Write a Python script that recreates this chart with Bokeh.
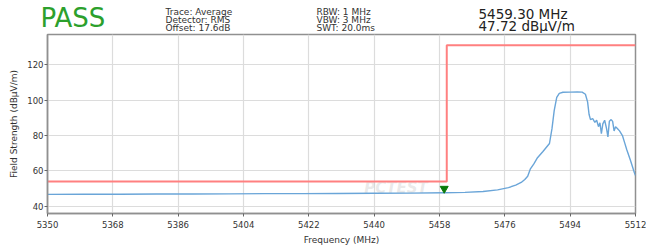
from bokeh.plotting import figure
from bokeh.layouts import column
from bokeh.models import Range1d, FixedTicker, ColumnDataSource, Label
from bokeh.core.properties import value
from bokeh.transform import dodge
from bokeh.embed import file_html
from bokeh.resources import INLINE

# ---------------- data ----------------
freq = [5350, 5360, 5370, 5380, 5390, 5400, 5410, 5420, 5430, 5440, 5450, 5459.3,
        5465, 5470, 5474, 5477, 5479, 5480.5, 5481.5, 5482.3, 5483, 5484, 5485,
        5486.5, 5488.3, 5489, 5489.6, 5490.3, 5491, 5492, 5494, 5496, 5497.3,
        5498.2, 5498.8, 5499.2, 5499.6, 5500.2, 5500.8, 5501.3, 5501.8, 5502.2,
        5502.6, 5503.0, 5503.5, 5504.0, 5504.4, 5504.8, 5505.3, 5505.7, 5506.1,
        5506.5, 5507.0, 5507.6, 5508.4, 5509.0, 5509.6, 5510.6, 5511.7, 5512]
level = [46.8, 46.9, 46.9, 47.0, 47.0, 47.1, 47.2, 47.2, 47.3, 47.4, 47.5, 47.72,
         47.9, 48.4, 49.3, 50.6, 52.0, 53.5, 55.2, 57.0, 61.0, 64.0, 67.5,
         71.0, 75.5, 84.0, 94.0, 101.5, 103.8, 104.4, 104.5, 104.6, 104.5,
         103.3, 99.0, 92.0, 89.0, 89.6, 87.4, 88.6, 85.0, 87.2,
         81.0, 86.6, 88.6, 84.2, 79.2, 88.0, 89.0, 88.0, 82.6,
         85.0, 84.0, 82.6, 80.0, 76.0, 72.0, 66.0, 59.0, 57.5]
limit_freq = [5350, 5460, 5460, 5512]
limit_level = [54, 54, 131, 131]
marker_freq = [5459.30]
marker_level = [47.72]
x_ticks = [5350, 5368, 5386, 5404, 5422, 5440, 5458, 5476, 5494, 5512]
y_ticks = [40, 60, 80, 100, 120]
verdict = "PASS"
header_left = ["Trace: Average", "Detector: RMS", "Offset: 17.6dB"]
header_mid = ["RBW: 1 MHz", "VBW: 3 MHz", "SWT: 20.0ms"]
watermark = "PCTEST"

FONT = "DejaVu Sans"
W, H = 646, 247
HH = 33            # header height
L, R = 47, 11      # main frame borders

# ---------------- header ----------------
hdr = figure(width=W, height=HH, x_range=Range1d(0, W), y_range=Range1d(0, HH),
             output_backend="svg", toolbar_location=None, title=None,
             min_border=0, x_axis_location=None, y_axis_location=None)
hdr.frame_align = False
hdr.outline_line_color = None
hdr.grid.visible = False


def hlabel(x, top_y, text, size, color="#333333"):
    hdr.add_layout(Label(x=x, y=HH - top_y, text=text, text_font=FONT,
                         text_font_size=size, text_color=color,
                         text_baseline="alphabetic", text_align="left"))


hlabel(40, 17, verdict, "26px", "#2ca02c")
for i, t in enumerate(header_left):
    hlabel(165, 11 + 8 * i, t, "9px")
for i, t in enumerate(header_mid):
    hlabel(316, 11 + 8 * i, t, "9px")
hlabel(478, 13, f"{marker_freq[0]:.2f} MHz", "13.5px", "#222222")
hlabel(478, 25, f"{marker_level[0]:.2f} dB\u00b5V/m", "13.5px", "#222222")

# ---------------- main plot ----------------
p = figure(width=W, height=H - HH, x_range=Range1d(5350, 5512), y_range=Range1d(36, 137),
           output_backend="svg", toolbar_location=None, title=None,
           min_border_left=L, min_border_right=R, min_border_top=1, min_border_bottom=28,
           x_axis_label="Frequency (MHz)", y_axis_label="Field Strength (dB\u00b5V/m)")
p.frame_align = False
p.xaxis.ticker = FixedTicker(ticks=x_ticks)
p.yaxis.ticker = FixedTicker(ticks=y_ticks)
p.grid.grid_line_color = "#dcdcdc"
p.grid.grid_line_width = 1.2
p.outline_line_color = "#909090"
p.outline_line_width = 1.5
p.axis.axis_line_color = "#909090"
p.axis.axis_line_width = 1.5
p.axis.major_tick_line_color = "#666666"
p.axis.major_tick_out = 3
p.axis.major_tick_in = 0
p.axis.minor_tick_line_color = None
p.axis.major_label_text_font = FONT
p.axis.major_label_text_font_size = "8.5px"
p.axis.major_label_text_color = "#333333"
p.yaxis.major_label_standoff = 1
p.xaxis.major_label_standoff = 4
p.axis.axis_label_text_font = FONT
p.axis.axis_label_text_font_size = "9px"
p.axis.axis_label_text_font_style = "normal"
p.axis.axis_label_text_color = "#333333"
p.xaxis.axis_label_standoff = 4
p.yaxis.axis_label_standoff = 5

p.text(x=[5446], y=[50.5], text=[watermark], text_font=value(FONT), text_font_size="15px",
       text_font_style="bold italic", text_color="#cfcfcf", text_alpha=0.45,
       text_align="center", text_baseline="middle")

p.line(limit_freq, limit_level, line_color="#ff8080", line_width=2)
p.line(freq, level, line_color="#6aa5d8", line_width=1.4)

msrc = ColumnDataSource(data=dict(f=marker_freq, v=marker_level))
p.scatter(x="f", y=dodge("v", 2.3, range=p.y_range), source=msrc, marker="inverted_triangle",
          size=8, fill_color="#0b7a0b", line_color="#0b7a0b")

layout = column(hdr, p, spacing=0)
open("out.html", "w").write(file_html(layout, INLINE))
